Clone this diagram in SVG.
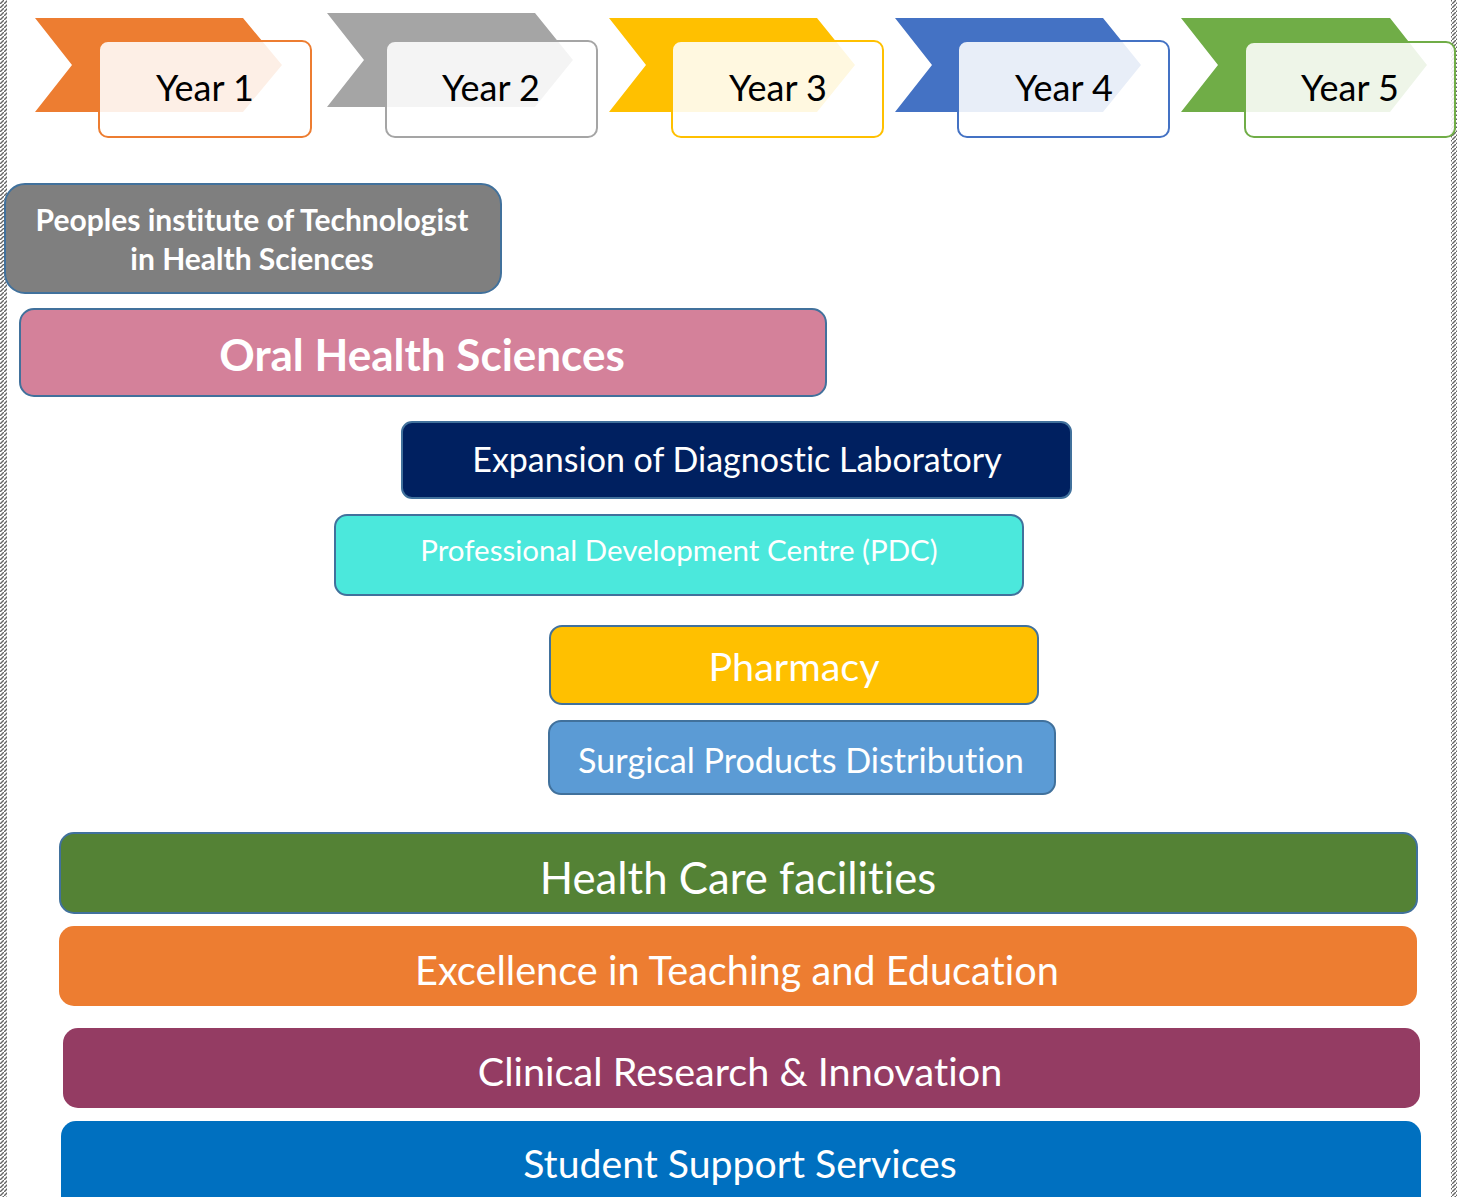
<svg xmlns="http://www.w3.org/2000/svg" width="1457" height="1197" viewBox="0 0 1457 1197">
<style>
text{font-family:Lato,"Open Sans","Liberation Sans",sans-serif;text-anchor:middle;font-variant-ligatures:none;font-feature-settings:"liga" 0,"dlig" 0}
.yr{font-size:36px;fill:#000}
.yb{stroke-width:2}
.box{stroke:#41719C;stroke-width:2}
.w{fill:#fff}
</style>
<defs>
<pattern id="hatch" width="4" height="4" patternUnits="userSpaceOnUse">
<rect width="4" height="4" fill="#fff"/>
<path d="M0,4 L4,0" stroke="#666" stroke-width="1.4"/>
</pattern>
</defs>
<rect x="0" y="0" width="7" height="1197" fill="url(#hatch)"/>
<rect x="1451" y="0" width="6" height="1197" fill="url(#hatch)"/>

<g id="year1">
<polygon points="35,18 243,18 282,65 243,112 35,112 72,65" fill="#ED7D31"/>
<rect x="99" y="41" width="212" height="96" rx="9" fill="#fff" fill-opacity="0.88" stroke="#ED7D31" class="yb"/>
<text x="205" y="101" class="yr">Year 1</text>
</g>
<g id="year2">
<polygon points="327,13 535,13 573,60 535,107 327,107 364,60" fill="#A5A5A5"/>
<rect x="386" y="41" width="211" height="96" rx="9" fill="#fff" fill-opacity="0.88" stroke="#A5A5A5" class="yb"/>
<text x="491" y="101" class="yr">Year 2</text>
</g>
<g id="year3">
<polygon points="609,18 817,18 855,65 817,112 609,112 646,65" fill="#FFC000"/>
<rect x="672" y="41" width="211" height="96" rx="9" fill="#fff" fill-opacity="0.88" stroke="#FFC000" class="yb"/>
<text x="778" y="101" class="yr">Year 3</text>
</g>
<g id="year4">
<polygon points="895,18 1103,18 1141,65 1103,112 895,112 932,65" fill="#4472C4"/>
<rect x="958" y="41" width="211" height="96" rx="9" fill="#fff" fill-opacity="0.88" stroke="#4472C4" class="yb"/>
<text x="1064" y="101" class="yr">Year 4</text>
</g>
<g id="year5">
<polygon points="1181,18 1390,18 1427,65 1390,112 1181,112 1218,65" fill="#70AD47"/>
<rect x="1245" y="42" width="210" height="95" rx="9" fill="#fff" fill-opacity="0.88" stroke="#70AD47" class="yb"/>
<text x="1350" y="101" class="yr">Year 5</text>
</g>

<g id="pith">
<rect x="5" y="184" width="496" height="109" rx="20" fill="#7F7F7F" class="box"/>
<text x="252" y="231" class="w" font-size="30" font-weight="bold">Peoples institute of Technologist</text>
<text x="252" y="270" class="w" font-size="30" font-weight="bold">in Health Sciences</text>
</g>
<g id="oral">
<rect x="20" y="309" width="806" height="87" rx="14" fill="#D4819A" class="box"/>
<text x="422" y="371" class="w" font-size="44" font-weight="bold">Oral Health Sciences</text>
</g>
<g id="lab">
<rect x="402" y="422" width="669" height="76" rx="10" fill="#002060" class="box"/>
<text x="737" y="472" class="w" font-size="34">Expansion of Diagnostic Laboratory</text>
</g>
<g id="pdc">
<rect x="335" y="515" width="688" height="80" rx="12" fill="#4BE8DC" class="box"/>
<text x="679" y="561" class="w" font-size="29.5">Professional Development Centre (PDC)</text>
</g>
<g id="pharmacy">
<rect x="550" y="626" width="488" height="78" rx="12" fill="#FFC000" class="box"/>
<text x="794" y="681" class="w" font-size="39.5">Pharmacy</text>
</g>
<g id="surgical">
<rect x="549" y="721" width="506" height="73" rx="12" fill="#5B9BD5" class="box"/>
<text x="801" y="773" class="w" font-size="34.2">Surgical Products Distribution</text>
</g>
<g id="healthcare">
<rect x="60" y="833" width="1357" height="80" rx="14" fill="#548235" class="box"/>
<text x="738" y="894" class="w" font-size="43.7">Health Care facilities</text>
</g>
<g id="excellence">
<rect x="59" y="926" width="1358" height="80" rx="15" fill="#ED7D31"/>
<text x="737" y="985" class="w" font-size="39.7">Excellence in Teaching and Education</text>
</g>
<g id="clinical">
<rect x="63" y="1028" width="1357" height="80" rx="15" fill="#943C63"/>
<text x="740" y="1086" class="w" font-size="39.6">Clinical Research &amp; Innovation</text>
</g>
<g id="student">
<rect x="61" y="1121" width="1360" height="100" rx="15" fill="#0070C0"/>
<text x="740" y="1178" class="w" font-size="39.2">Student Support Services</text>
</g>
<g id="connectors"></g>
</svg>
